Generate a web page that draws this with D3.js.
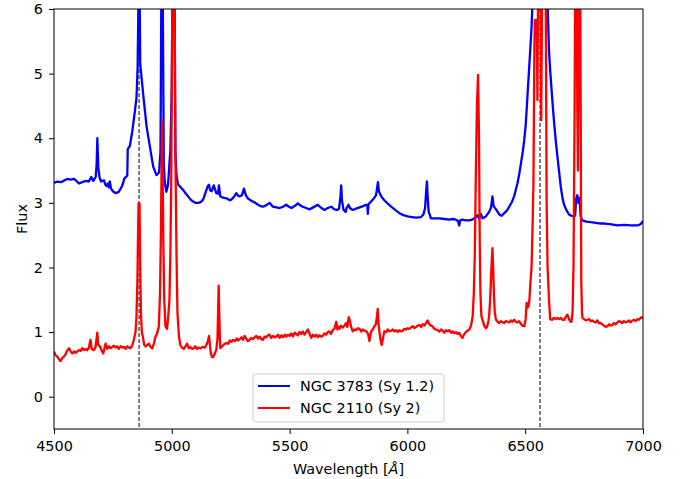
<!DOCTYPE html>
<html>
<head>
<meta charset="utf-8">
<script src="https://cdn.jsdelivr.net/npm/d3@7"></script>
<style>
  body { margin: 0; background: #fff; }
  svg { font-family: "DejaVu Sans", sans-serif; }
</style>
</head>
<body>
<div class="spectrumContainer"></div>
<script>
// NGC 3783 (Sy 1.2) - wavelength in Angstrom and flux
var wave3783 = [4500,4515,4530,4545,4556,4570,4585,4595,4606,4620,4635,4648,4658,4667,4677,4681,4684,4688,4693,4700,
  4712,4718,4723,4728,4733,4737,4742,4750,4761,4775,4789,4799,4811,4813,4822,4832,4842,4850,4855,4858,
  4861,4864,4866,4878,4893,4907,4921,4935,4946,4952,4956,4959,4962,4966,4970,4977,4984,4994,5000,5004,
  5007,5011,5015,5020,5027,5036,5048,5060,5069,5080,5090,5100,5111,5122,5133,5147,5153,5158,5163,5169,
  5178,5184,5189,5196,5200,5206,5218,5232,5246,5253,5265,5274,5281,5288,5298,5306,5314,5323,5334,5344,
  5355,5366,5376,5387,5400,5415,5429,5444,5458,5472,5486,5497,5508,5521,5535,5546,5556,5570,5585,5600,
  5620,5635,5648,5662,5677,5690,5702,5710,5716,5719,5722,5729,5738,5742,5750,5756,5768,5782,5797,5812,
  5825,5830,5832,5835,5846,5858,5867,5871,5875,5879,5886,5895,5902,5916,5931,5948,5966,5983,6001,6020,
  6037,6058,6068,6075,6080,6083,6086,6090,6100,6118,6136,6157,6178,6192,6206,6215,6220,6224,6234,6248,
  6263,6275,6284,6293,6298,6305,6312,6319,6333,6347,6355,6361,6366,6376,6390,6400,6411,6422,6432,6443,
  6453,6467,6475,6482,6490,6496,6502,6507,6512,6517,6522,6527,6532,6545,6563,6580,6594,6601,6606,6611,
  6617,6623,6630,6637,6644,6651,6658,6665,6676,6686,6696,6705,6712,6716,6721,6726,6731,6735,6742,6760,
  6778,6800,6820,6835,6860,6891,6920,6948,6976,6990,7000];
var flux3783 = [3.31,3.33,3.32,3.35,3.37,3.36,3.37,3.34,3.30,3.32,3.34,3.33,3.40,3.34,3.40,3.60,4.00,3.55,3.40,3.33,
  3.35,3.28,3.26,3.30,3.24,3.33,3.22,3.18,3.15,3.17,3.26,3.38,3.42,3.83,3.88,4.10,4.38,4.62,5.10,6.00,
  7.50,6.00,5.15,4.70,4.18,3.87,3.56,3.43,3.47,3.80,6.50,7.50,6.00,3.60,3.33,3.17,3.28,3.82,4.80,7.00,
  9.00,7.00,3.80,3.42,3.28,3.25,3.20,3.14,3.10,3.05,3.02,3.00,3.00,3.01,3.05,3.20,3.26,3.28,3.19,3.18,
  3.27,3.20,3.15,3.14,3.27,3.10,3.08,3.07,3.04,3.05,3.10,3.15,3.11,3.10,3.12,3.22,3.12,3.07,3.04,3.02,
  3.00,2.97,2.95,2.94,2.96,3.00,2.94,2.93,2.92,2.94,2.97,2.94,2.92,2.95,2.99,2.96,2.94,2.92,2.90,2.93,
  2.97,2.92,2.89,2.92,2.94,2.90,2.89,2.91,3.10,3.27,3.05,2.89,2.86,2.92,2.97,2.92,2.89,2.91,2.93,2.95,
  2.97,2.96,2.83,2.98,3.02,3.07,3.12,3.22,3.32,3.18,3.12,3.07,3.04,2.99,2.94,2.89,2.84,2.81,2.79,2.78,
  2.77,2.78,2.82,2.92,3.20,3.33,3.10,2.87,2.76,2.76,2.76,2.75,2.74,2.75,2.74,2.72,2.65,2.73,2.74,2.73,
  2.73,2.74,2.76,2.78,2.81,2.76,2.83,2.76,2.79,2.86,2.93,3.10,2.95,2.90,2.82,2.80,2.84,2.88,2.94,3.01,
  3.10,3.30,3.45,3.61,3.80,3.97,4.20,4.49,4.80,5.10,5.40,5.72,6.20,8.00,10.0,8.00,6.20,5.36,5.05,4.80,
  4.50,4.23,3.95,3.71,3.48,3.25,3.08,2.97,2.88,2.82,2.80,2.79,2.80,3.05,3.12,3.00,3.08,2.80,2.73,2.71,
  2.70,2.69,2.68,2.68,2.67,2.65,2.66,2.65,2.65,2.67,2.72];

// NGC 2110 (Sy 2)
var wave2110 = [4500,4507,4514,4521,4528,4535,4542,4550,4557,4564,4571,4578,4585,4592,4599,4606,4613,4620,4627,4634,
  4641,4648,4655,4660,4669,4676,4680,4684,4688,4695,4702,4709,4714,4719,4726,4733,4740,4747,4754,4761,
  4768,4775,4782,4790,4797,4804,4811,4818,4825,4832,4839,4846,4850,4854,4857,4859,4863,4866,4869,4873,
  4877,4883,4889,4896,4903,4910,4917,4924,4931,4938,4945,4950,4954,4957,4959,4961,4964,4968,4973,4980,
  4985,4990,4994,4998,5002,5007,5012,5016,5020,5024,5030,5036,5043,5051,5058,5065,5072,5079,5086,5093,
  5100,5107,5114,5122,5130,5140,5147,5153,5158,5162,5165,5170,5175,5182,5189,5194,5197,5199,5201,5204,
  5206,5214,5222,5232,5240,5246,5253,5260,5268,5276,5282,5288,5296,5302,5309,5316,5323,5330,5337,5344,
  5352,5359,5366,5373,5380,5387,5394,5401,5408,5415,5422,5430,5437,5444,5451,5458,5465,5472,5480,5486,
  5493,5500,5507,5514,5521,5528,5535,5542,5549,5556,5563,5570,5578,5585,5592,5599,5606,5613,5620,5627,
  5634,5641,5648,5655,5662,5669,5676,5683,5690,5695,5698,5703,5708,5712,5718,5726,5733,5740,5745,5751,
  5756,5761,5768,5775,5782,5790,5797,5804,5811,5818,5825,5832,5839,5843,5846,5853,5860,5866,5871,5874,
  5877,5881,5886,5891,5896,5902,5910,5917,5924,5931,5938,5945,5952,5959,5966,5973,5980,5987,5994,6001,
  6008,6015,6023,6030,6037,6044,6051,6058,6065,6072,6079,6086,6093,6100,6107,6114,6121,6128,6136,6143,
  6150,6157,6164,6171,6178,6185,6192,6199,6206,6213,6220,6227,6234,6240,6248,6255,6263,6270,6277,6282,
  6286,6290,6295,6300,6304,6307,6310,6314,6319,6326,6333,6338,6343,6347,6352,6356,6361,6364,6367,6371,
  6376,6383,6390,6397,6404,6411,6418,6425,6432,6439,6446,6453,6460,6467,6474,6481,6488,6496,6502,6506,
  6510,6514,6518,6522,6527,6531,6535,6539,6541,6545,6549,6552,6555,6560,6565,6568,6572,6577,6583,6587,
  6591,6595,6601,6606,6615,6622,6630,6637,6644,6651,6658,6665,6672,6679,6686,6692,6696,6701,6705,6709,
  6713,6717,6721,6724,6728,6732,6736,6738,6741,6743,6750,6757,6764,6771,6778,6785,6792,6799,6806,6813,
  6820,6827,6834,6841,6849,6856,6863,6870,6877,6884,6891,6898,6905,6912,6919,6926,6933,6940,6947,6955,
  6962,6969,6976,6983,6990,6994,7000];
var flux2110 = [0.70,0.64,0.62,0.58,0.55,0.60,0.62,0.66,0.72,0.75,0.70,0.67,0.70,0.68,0.70,0.72,0.71,0.75,0.72,0.74,
  0.72,0.76,0.88,0.74,0.72,0.76,0.88,0.99,0.80,0.78,0.72,0.67,0.74,0.82,0.74,0.78,0.75,0.77,0.79,0.76,
  0.78,0.74,0.78,0.76,0.77,0.74,0.78,0.76,0.75,0.79,0.88,1.00,1.24,1.80,2.60,2.99,2.99,2.00,1.30,1.00,
  0.93,0.80,0.78,0.80,0.82,0.77,0.75,0.82,0.93,0.98,1.09,1.60,2.60,3.70,4.26,3.60,2.40,1.50,1.09,1.05,
  1.25,1.50,2.20,3.50,6.00,10.0,6.00,3.50,2.20,1.30,0.95,0.80,0.76,0.74,0.78,0.82,0.75,0.77,0.74,0.75,
  0.78,0.74,0.76,0.75,0.77,0.76,0.80,0.86,0.94,0.80,0.68,0.62,0.61,0.66,0.73,0.90,1.40,1.72,1.40,0.90,
  0.75,0.78,0.81,0.83,0.82,0.87,0.85,0.88,0.86,0.90,0.87,0.89,0.92,0.88,0.94,0.90,0.86,0.88,0.91,0.89,
  0.92,0.94,0.90,0.93,0.89,0.88,0.93,0.92,0.95,0.96,0.91,0.94,0.92,0.93,0.96,0.91,0.95,0.92,0.96,0.93,
  0.96,0.94,0.98,0.93,0.99,0.97,0.95,1.00,0.97,1.01,0.96,1.00,1.04,0.97,0.91,0.96,0.93,0.96,0.92,0.95,
  0.93,0.94,0.98,0.96,1.00,1.01,0.97,1.03,1.05,1.12,1.16,1.04,1.08,1.05,1.10,1.07,1.10,1.14,1.08,1.23,
  1.18,1.08,1.01,1.04,1.03,1.06,1.05,1.01,1.04,1.02,1.01,0.98,0.86,0.95,1.01,1.04,1.09,1.12,1.25,1.36,
  1.15,1.01,0.88,0.80,0.90,1.01,1.00,1.04,1.01,1.02,1.04,1.01,1.03,1.00,1.03,1.01,1.02,1.05,1.04,1.06,
  1.05,1.07,1.09,1.06,1.08,1.10,1.11,1.08,1.12,1.10,1.14,1.18,1.12,1.10,1.09,1.05,1.04,1.03,1.01,1.04,
  1.02,0.99,1.03,1.01,1.03,0.99,1.01,0.98,1.00,0.97,0.99,0.94,0.91,0.96,1.00,1.02,1.04,1.10,1.24,1.60,
  2.20,3.30,4.50,4.98,4.00,2.40,1.60,1.25,1.19,1.10,1.06,1.08,1.15,1.25,1.55,1.95,2.30,2.00,1.60,1.30,
  1.19,1.16,1.14,1.17,1.15,1.14,1.17,1.16,1.15,1.18,1.16,1.19,1.16,1.15,1.17,1.13,1.10,1.09,1.20,1.45,
  1.38,1.40,1.50,1.76,2.00,2.60,3.30,5.40,5.83,5.80,5.83,4.59,6.50,12.0,6.50,4.28,6.50,10.0,13.0,6.50,
  3.00,2.00,1.50,1.20,1.19,1.22,1.20,1.22,1.20,1.22,1.19,1.19,1.23,1.27,1.20,1.16,1.16,1.30,2.01,4.00,
  7.00,9.00,4.50,3.50,6.00,8.00,4.00,1.80,1.30,1.22,1.20,1.18,1.19,1.20,1.17,1.18,1.16,1.15,1.18,1.14,
  1.14,1.12,1.10,1.08,1.09,1.12,1.10,1.11,1.14,1.12,1.15,1.17,1.16,1.14,1.17,1.15,1.16,1.18,1.15,1.18,
  1.19,1.17,1.20,1.19,1.22,1.23,1.21];

// rest wavelengths of H-beta and H-alpha, marked with dashed lines
var lineMarkers = [4861, 6563];
var xTicks = [4500, 5000, 5500, 6000, 6500, 7000];
var yTicks = [0, 1, 2, 3, 4, 5, 6];
var legendLabels = ["NGC 3783 (Sy 1.2)", "NGC 2110 (Sy 2)"];
var legendColors = ["blue", "red"];

function drawSpectra() {
  var width = 689, height = 479;
  var left = 54, right = 643, plotTop = 9, bottom = 429;

  var svg = d3.select(".spectrumContainer")
    .append("svg")
    .attr("width", width)
    .attr("height", height);

  var x = d3.scaleLinear().domain([4500, 7000]).range([left, right]);
  var y = d3.scaleLinear().domain([-0.5, 6]).range([bottom, plotTop]);

  // clip everything to the axes box (the strong lines run off the top)
  svg.append("clipPath")
    .attr("id", "plotClip")
    .append("rect")
    .attr("x", left).attr("y", plotTop)
    .attr("width", right - left).attr("height", bottom - plotTop);

  var plot = svg.append("g").attr("clip-path", "url(#plotClip)");

  // dashed markers go under the spectra
  plot.selectAll("line.marker")
    .data(lineMarkers)
    .enter()
    .append("line")
    .attr("class", "marker")
    .attr("x1", function(d) { return x(d); })
    .attr("x2", function(d) { return x(d); })
    .attr("y1", plotTop)
    .attr("y2", bottom)
    .attr("stroke", "black")
    .attr("stroke-width", 1)
    .attr("stroke-dasharray", "4,2");

  var line = d3.line()
    .x(function(d) { return x(d[0]); })
    .y(function(d) { return y(d[1]); });

  var series = [
    { name: legendLabels[0], color: legendColors[0], pts: d3.zip(wave3783, flux3783) },
    { name: legendLabels[1], color: legendColors[1], pts: d3.zip(wave2110, flux2110) }
  ];

  plot.selectAll("path.spectrum")
    .data(series)
    .enter()
    .append("path")
    .attr("class", "spectrum")
    .attr("d", function(d) { return line(d.pts); })
    .attr("fill", "none")
    .attr("stroke", function(d) { return d.color; })
    .attr("stroke-width", 2.3)
    .attr("stroke-linejoin", "round");

  // axes
  svg.append("g")
    .attr("transform", "translate(0," + bottom + ")")
    .call(d3.axisBottom(x).tickValues(xTicks).tickFormat(d3.format("d")).tickSize(5).tickPadding(7).tickSizeOuter(0));
  svg.append("g")
    .attr("transform", "translate(" + left + ",0)")
    .call(d3.axisLeft(y).tickValues(yTicks).tickFormat(d3.format("d")).tickSize(5).tickPadding(6).tickSizeOuter(0));

  svg.selectAll(".tick text")
    .attr("font-family", "DejaVu Sans")
    .attr("font-size", 14.4)
    .attr("fill", "black");
  svg.selectAll(".tick line").attr("stroke", "black");
  svg.selectAll(".domain").remove();

  // frame around the axes
  svg.append("rect")
    .attr("x", left).attr("y", plotTop)
    .attr("width", right - left).attr("height", bottom - plotTop)
    .attr("fill", "none")
    .attr("stroke", "black")
    .attr("stroke-width", 1);

  // axis labels
  var xLabel = svg.append("text")
    .attr("x", (left + right) / 2)
    .attr("y", 474)
    .attr("text-anchor", "middle")
    .attr("font-size", 14.4);
  xLabel.append("tspan").text("Wavelength [");
  xLabel.append("tspan").attr("font-style", "italic").text("Å");
  xLabel.append("tspan").text("]");

  svg.append("text")
    .attr("transform", "translate(27," + ((plotTop + bottom) / 2) + ") rotate(-90)")
    .attr("text-anchor", "middle")
    .attr("font-size", 14.4)
    .text("Flux");

  // legend
  var legend = svg.append("g").attr("transform", "translate(253,374)");
  legend.append("rect")
    .attr("width", 191).attr("height", 48)
    .attr("rx", 3)
    .attr("fill", "white").attr("fill-opacity", 0.8)
    .attr("stroke", "#cccccc");

  var rows = legend.selectAll("g.row")
    .data(series)
    .enter()
    .append("g")
    .attr("class", "row")
    .attr("transform", function(d, i) { return "translate(0," + (12 + i * 22) + ")"; });
  rows.append("line")
    .attr("x1", 5).attr("x2", 37)
    .attr("stroke", function(d) { return d.color; })
    .attr("stroke-width", 2);
  rows.append("text")
    .attr("x", 47)
    .attr("y", 5)
    .attr("font-size", 14.4)
    .text(function(d) { return d.name; });
}

drawSpectra();
</script>
</body>
</html>
